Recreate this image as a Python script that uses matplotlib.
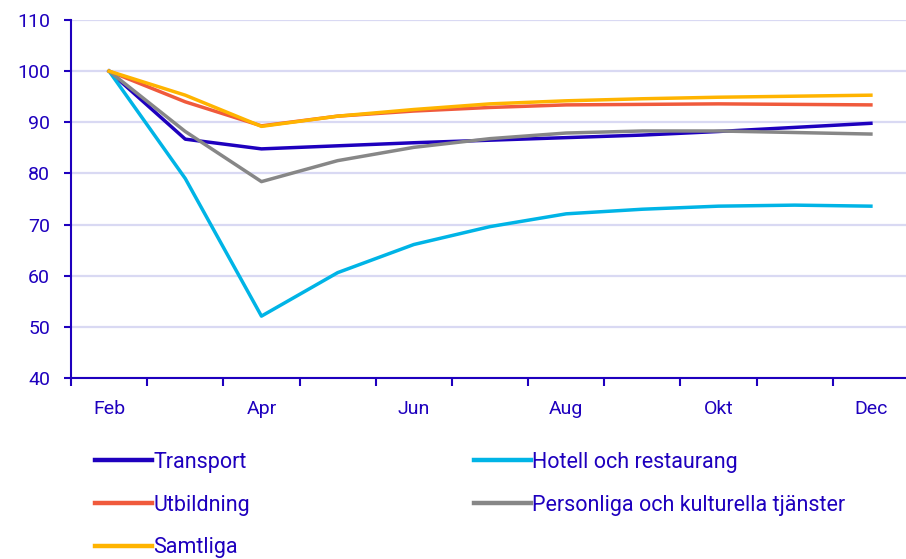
import matplotlib
matplotlib.use("Agg")
import matplotlib.pyplot as plt
from matplotlib.lines import Line2D
from matplotlib.ticker import FixedLocator, NullFormatter

plt.rcParams['font.family'] = ['Roboto', 'DejaVu Sans']

months = ["Feb", "Mar", "Apr", "Maj", "Jun", "Jul", "Aug", "Sep", "Okt", "Nov", "Dec"]
tick_labels = ["Feb", "Apr", "Jun", "Aug", "Okt", "Dec"]

transport = [100, 86.7, 84.8, 85.4, 86.0, 86.5, 87.0, 87.5, 88.2, 89.0, 89.8]
hotell = [100, 79.0, 52.1, 60.6, 66.1, 69.6, 72.1, 73.0, 73.6, 73.8, 73.6]
utbildning = [100, 94.0, 89.3, 91.2, 92.2, 92.9, 93.4, 93.5, 93.6, 93.5, 93.4]
personliga = [100, 88.2, 78.4, 82.5, 85.1, 86.8, 87.9, 88.3, 88.3, 88.0, 87.7]
samtliga = [100, 95.3, 89.2, 91.2, 92.5, 93.6, 94.2, 94.6, 94.9, 95.1, 95.3]

names = ["Transport", "Hotell och restaurang", "Utbildning",
         "Personliga och kulturella tjänster", "Samtliga"]
colors = ["#1E00BE", "#00B4E6", "#F05A3C", "#878787", "#FFB400"]
series = [transport, hotell, utbildning, personliga, samtliga]

TXT = "#1E00BE"
W, H = 906, 559
fig = plt.figure(figsize=(W / 100, H / 100), dpi=100)
ax = fig.add_axes([71 / W, (H - 378) / H, 838 / W, 358 / H])

x = list(range(len(months)))
for s, c, n in zip(series, colors, names):
    ax.plot(x, s, color=c, lw=2.5, label=n, zorder=3)

ax.set_xlim(-0.5, len(months) - 0.5)
ax.set_ylim(40, 110)
ax.set_yticks(range(40, 111, 10))
ax.yaxis.grid(True, color="#D9D9F3", lw=1.6, zorder=0)
ax.set_axisbelow(True)

# x ticks at category boundaries, labels at every second month
ax.xaxis.set_major_locator(FixedLocator([i - 0.5 for i in range(len(months) + 1)]))
ax.xaxis.set_major_formatter(NullFormatter())
ax.xaxis.set_minor_locator(FixedLocator([months.index(m) for m in tick_labels]))
ax.set_xticklabels(tick_labels, minor=True)
ax.tick_params(axis='x', which='major', length=6, width=1.5, color=TXT, direction='out')
ax.tick_params(axis='x', which='minor', length=0, pad=16, labelsize=14, labelcolor=TXT)
ax.tick_params(axis='y', length=5, width=1.5, color=TXT, direction='out', pad=10,
               labelsize=14, labelcolor=TXT)

for sp in ["top", "right"]:
    ax.spines[sp].set_visible(False)
for sp in ["left", "bottom"]:
    ax.spines[sp].set_color(TXT)
    ax.spines[sp].set_linewidth(1.5)

order = [0, 2, 4, 1, 3]
handles = [Line2D([], [], color=colors[i], lw=3.2) for i in order]
labels = [names[i] for i in order]
leg = fig.legend(handles, labels, loc="upper left", ncol=2,
                 bbox_to_anchor=(95 / W, 1 - 452 / H), frameon=False,
                 fontsize=15.5, handlelength=2.65, handletextpad=0.05,
                 labelspacing=1.0, columnspacing=10.42, borderpad=0, borderaxespad=0)
for t in leg.get_texts():
    t.set_color(TXT)

fig.savefig("out.png", dpi=100)
